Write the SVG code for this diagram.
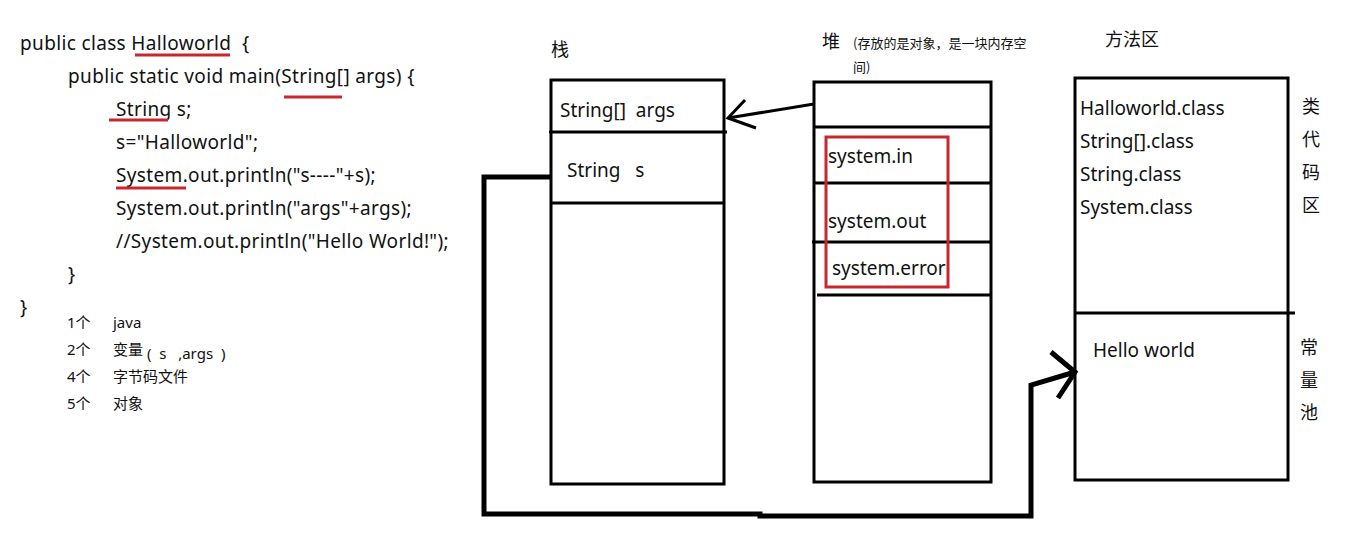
<svg xmlns="http://www.w3.org/2000/svg" width="1354" height="541" viewBox="0 0 1354 541">
<style>
text{font-family:"Noto Sans","Noto Sans CJK SC",sans-serif;fill:#111;white-space:pre}
.code{font-size:19px;letter-spacing:0.35px}
.note{font-size:15px}
.cell{font-size:19px}
.cjk{font-family:"Noto Sans CJK SC",sans-serif;font-size:18px}
.small{font-family:"Noto Sans CJK SC",sans-serif;font-size:13px}
.box{fill:none;stroke:#000;stroke-width:3}
.div{stroke:#000;stroke-width:3}
.red{fill:none;stroke:#c8282d;stroke-width:3}
.thick{fill:none;stroke:#000;stroke-width:5;stroke-linejoin:miter}
.thin{fill:none;stroke:#000;stroke-width:3}
</style>
<rect width="1354" height="541" fill="#fff"/>
<g id="code">
<text class="code" x="20" y="50" xml:space="preserve">public class Halloworld  {</text>
<text class="code" x="68" y="83">public static void main(String[] args) {</text>
<text class="code" x="116" y="116">String s;</text>
<text class="code" x="116" y="149">s="Halloworld";</text>
<text class="code" x="116" y="182">System.out.println("s----"+s);</text>
<text class="code" x="116" y="215">System.out.println("args"+args);</text>
<text class="code" x="116" y="248">//System.out.println("Hello World!");</text>
<text class="code" x="68" y="281">}</text>
<text class="code" x="20" y="314">}</text>
<line class="red" x1="135" y1="55" x2="230" y2="55"/>
<line class="red" x1="284" y1="97" x2="342" y2="97"/>
<line class="red" x1="109" y1="120" x2="168" y2="120"/>
<line class="red" x1="116" y1="188" x2="186" y2="188"/>
</g>
<g id="notes">
<text class="note" x="67" y="328">1个</text><text class="note" x="113" y="328">java</text>
<text class="note" x="67" y="355">2个</text><text class="note" x="113" y="355">变量</text><text class="note" x="147" y="359" xml:space="preserve">(  s   ,args  )</text>
<text class="note" x="67" y="382">4个</text><text class="note" x="113" y="382">字节码文件</text>
<text class="note" x="67" y="409">5个</text><text class="note" x="113" y="409">对象</text>
</g>
<g id="stack">
<text class="cjk" x="551" y="56">栈</text>
<rect class="box" x="551" y="80" width="173" height="404"/>
<line class="div" x1="549" y1="132" x2="727" y2="132"/>
<line class="div" x1="551" y1="203" x2="724" y2="203"/>
<text class="cell" x="560" y="117" xml:space="preserve">String[]  args</text>
<text class="cell" x="567" y="177" xml:space="preserve">String   s</text>
</g>
<g id="heap">
<text class="cjk" x="822" y="48">堆</text>
<text class="small" x="853" y="48">(存放的是对象，是一块内存空</text>
<text class="small" x="853" y="72">间)</text>
<rect class="box" x="814" y="82" width="177" height="400"/>
<line class="div" x1="814" y1="127" x2="991" y2="127"/>
<line class="div" x1="814" y1="183" x2="991" y2="183"/>
<line class="div" x1="812" y1="242" x2="991" y2="242"/>
<line class="div" x1="817" y1="295" x2="991" y2="295"/>
<rect class="red" x="826" y="137" width="122" height="150"/>
<text class="cell" x="828" y="163">system.in</text>
<text class="cell" x="828" y="228">system.out</text>
<text class="cell" x="832" y="275">system.error</text>
</g>
<g id="method-area">
<text class="cjk" x="1105" y="46">方法区</text>
<rect class="box" x="1075" y="78" width="213" height="402"/>
<line class="div" x1="1075" y1="313" x2="1295" y2="313"/>
<text class="cell" x="1080" y="115">Halloworld.class</text>
<text class="cell" x="1080" y="148">String[].class</text>
<text class="cell" x="1080" y="181">String.class</text>
<text class="cell" x="1080" y="214">System.class</text>
<text class="cell" x="1093" y="357">Hello world</text>
<text class="cjk" x="1302" y="113">类</text>
<text class="cjk" x="1302" y="146">代</text>
<text class="cjk" x="1302" y="179">码</text>
<text class="cjk" x="1302" y="212">区</text>
<text class="cjk" x="1300" y="354">常</text>
<text class="cjk" x="1300" y="387">量</text>
<text class="cjk" x="1300" y="419">池</text>
</g>
<g id="connectors">
<polyline class="thin" points="814,104 728,118"/>
<polyline class="thin" points="745,100 728,118 756,128"/>
<polyline class="thick" points="551,177 484,177 484,514 760,514 760,516 1031,516 1031,385 1075,372"/>
<polyline class="thick" points="1051,352 1075,372 1058,398"/>
</g>
</svg>
